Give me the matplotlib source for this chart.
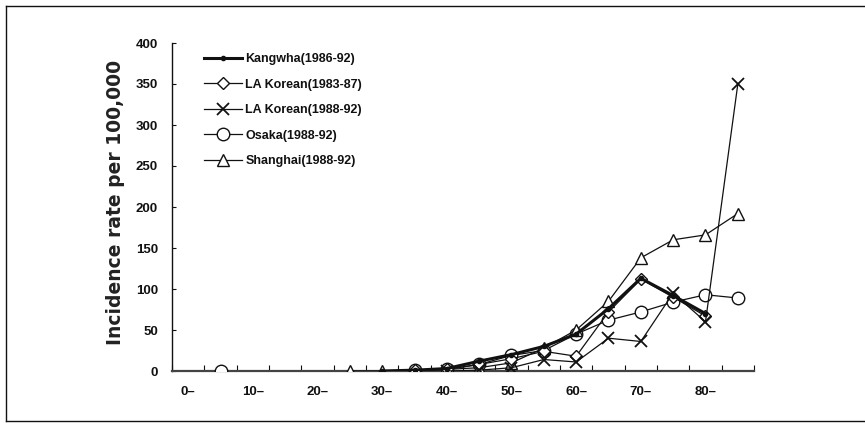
import numpy as np
import matplotlib
matplotlib.use("Agg")
import matplotlib.pyplot as plt
from matplotlib.lines import Line2D

nan = np.nan
ages = [0, 5, 10, 15, 20, 25, 30, 35, 40, 45, 50, 55, 60, 65, 70, 75, 80, 85]
tick_labels = ["0–", "10–", "20–", "30–", "40–", "50–", "60–", "70–", "80–"]

kangwha = [nan, nan, nan, nan, nan, nan, 0, 1, 3, 12, 20, 30, 45, 76, 113, 92, 70, nan]
la_korean_8387 = [nan, nan, nan, nan, nan, nan, nan, 1, 2, 8, 15, 24, 18, 72, 112, 90, 67, nan]
la_korean_8892 = [nan, nan, nan, nan, nan, nan, nan, nan, 0, 1, 4, 14, 11, 40, 36, 95, 60, 350]
osaka = [nan, 0, nan, nan, nan, nan, nan, 1, 2, 8, 19, 25, 45, 62, 72, 84, 93, 89]
shanghai = [nan, nan, nan, nan, nan, 0, 0, 1, 2, 4, 10, 28, 50, 85, 138, 160, 166, 192]

plt.rcParams['font.family'] = ['Liberation Sans', 'DejaVu Sans']

fig = plt.figure(figsize=(8.65, 4.23), dpi=100)
ax = fig.add_axes([172/865, 1-371/423, (754-172)/865, (371-43)/423])

x = np.arange(len(ages))
ink = '#111111'
ax.plot(x, kangwha, color=ink, lw=2.2, marker='o', ms=3, mfc=ink, mec=ink,
        label='Kangwha(1986-92)', zorder=5)
ax.plot(x, la_korean_8387, color=ink, lw=0.9, marker='D', ms=6, mfc='white', mec=ink,
        mew=1.0, label='LA Korean(1983-87)', zorder=4)
ax.plot(x, la_korean_8892, color=ink, lw=0.9, marker='x', ms=9, mec=ink,
        mew=1.3, label='LA Korean(1988-92)', zorder=4)
ax.plot(x, osaka, color=ink, lw=0.9, marker='o', ms=9, mfc='white', mec=ink,
        mew=1.0, label='Osaka(1988-92)', zorder=3)
ax.plot(x, shanghai, color=ink, lw=0.9, marker='^', ms=8, mfc='white', mec=ink,
        mew=1.0, label='Shanghai(1988-92)', zorder=3)

ax.set_xlim(-0.5, len(ages) - 0.5)
ax.set_ylim(0, 400)
ax.set_yticks(np.arange(0, 401, 50))
ax.tick_params(axis='y', direction='in', length=3, width=0.8, labelsize=9.5, pad=10,
               colors=ink)
for t in ax.get_yticklabels():
    t.set_fontweight('bold')
ax.set_xticks(np.arange(-0.5, len(ages), 1.0))
ax.set_xticklabels([])
ax.tick_params(axis='x', which='major', direction='in', length=4, width=0.8, colors=ink)
ax.set_xticks(np.arange(0, len(ages), 2), minor=True)
ax.set_xticklabels(tick_labels, minor=True, fontweight='bold')
ax.tick_params(axis='x', which='minor', length=0, labelsize=9.5, pad=11, colors=ink)

for s in ['top', 'right']:
    ax.spines[s].set_visible(False)
ax.spines['left'].set_color(ink)
ax.spines['bottom'].set_color('#444444')
ax.spines['left'].set_linewidth(1.0)
ax.spines['bottom'].set_linewidth(1.6)

ax.set_ylabel('Incidence rate per 100,000', family='DejaVu Sans', fontsize=13.5,
              fontweight='bold', color='#222222', labelpad=8)
ax.yaxis.set_label_coords(-0.08, 0.515)

leg = ax.legend(loc='upper left', bbox_to_anchor=(0.04, 0.995), frameon=False,
                prop={'size': 9, 'weight': 'bold'}, handlelength=3.0,
                handletextpad=0.3, labelspacing=1.07, borderaxespad=0.3)
for t in leg.get_texts():
    t.set_color(ink)

fig.add_artist(Line2D([6/865, 1.0], [1-6/423, 1-6/423], transform=fig.transFigure,
                      color=ink, lw=1.0))
fig.add_artist(Line2D([6/865, 6/865], [1-6/423, 1-421/423], transform=fig.transFigure,
                      color=ink, lw=1.0))
fig.add_artist(Line2D([6/865, 1.0], [1-421/423, 1-421/423], transform=fig.transFigure,
                      color=ink, lw=1.0))

fig.savefig('out.png', dpi=100)
